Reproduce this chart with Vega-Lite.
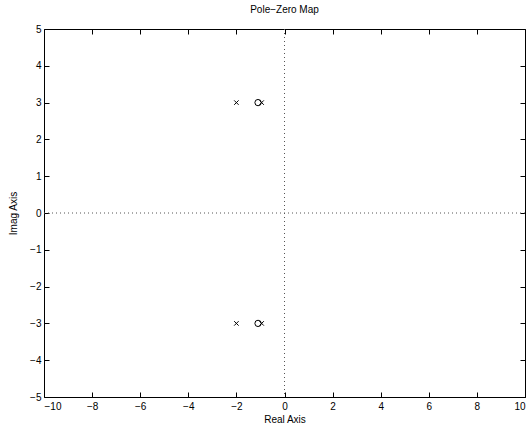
{
  "$schema": "https://vega.github.io/schema/vega-lite/v6.json",
  "autosize": "none",
  "width": 481,
  "height": 368,
  "padding": {"left": 44, "top": 29, "right": 6, "bottom": 37},
  "background": "white",
  "title": {"text": "Pole−Zero Map", "fontSize": 10, "fontWeight": "normal", "font": "Liberation Sans", "color": "black", "offset": 9},
  "config": {
    "view": {"stroke": "black", "strokeWidth": 1},
    "axis": {"grid": false, "domain": false, "tickColor": "black", "tickSize": -5, "labelFont": "Liberation Sans", "labelFontSize": 10, "labelColor": "black", "titleFont": "Liberation Sans", "titleFontSize": 10, "titleFontWeight": "normal", "titleColor": "black", "labelPadding": 9}
  },
  "layer": [
    {
      "data": {"values": [
        {"re": -2, "im": 3, "kind": "pole"},
        {"re": -2, "im": -3, "kind": "pole"},
        {"re": -0.95, "im": 3, "kind": "pole"},
        {"re": -0.95, "im": -3, "kind": "pole"},
        {"re": -1.1, "im": 3, "kind": "zero"},
        {"re": -1.1, "im": -3, "kind": "zero"}
      ]},
      "mark": {"type": "point", "filled": false, "stroke": "black", "strokeWidth": 1, "opacity": 1},
      "encoding": {
        "x": {"field": "re", "type": "quantitative", "scale": {"domain": [-10, 10], "nice": false}, "axis": {"orient": "bottom", "title": "Real Axis", "values": [-10,-8,-6,-4,-2,0,2,4,6,8,10], "titlePadding": 3}},
        "y": {"field": "im", "type": "quantitative", "scale": {"domain": [-5, 5], "nice": false}, "axis": {"orient": "left", "title": "Imag Axis", "values": [-5,-4,-3,-2,-1,0,1,2,3,4,5], "titlePadding": 11, "labelPadding": 8}},
        "shape": {"field": "kind", "type": "nominal", "scale": {"domain": ["pole", "zero"], "range": ["M-1,-1L1,1M-1,1L1,-1", "circle"]}, "legend": null},
        "size": {"field": "kind", "type": "nominal", "scale": {"domain": ["pole", "zero"], "range": [20, 40]}, "legend": null}
      }
    },
    {
      "data": {"values": [{"re": 0, "im": 0}]},
      "mark": {"type": "point", "opacity": 0},
      "encoding": {
        "x": {"field": "re", "type": "quantitative", "scale": {"domain": [-10, 10], "nice": false}, "axis": {"orient": "top", "labels": false, "title": null, "values": [-10,-8,-6,-4,-2,0,2,4,6,8,10]}},
        "y": {"field": "im", "type": "quantitative", "scale": {"domain": [-5, 5], "nice": false}, "axis": {"orient": "right", "labels": false, "title": null, "values": [-5,-4,-3,-2,-1,0,1,2,3,4,5]}}
      }
    },
    {
      "data": {"values": [{"v": 0}]},
      "mark": {"type": "rule", "color": "#555555", "strokeDash": [1, 3], "strokeWidth": 1},
      "encoding": {"x": {"field": "v", "type": "quantitative", "scale": {"domain": [-10, 10], "nice": false}, "axis": null}}
    },
    {
      "data": {"values": [{"v": 0}]},
      "mark": {"type": "rule", "color": "#555555", "strokeDash": [1, 3], "strokeWidth": 1},
      "encoding": {"y": {"field": "v", "type": "quantitative", "scale": {"domain": [-5, 5], "nice": false}, "axis": null}}
    }
  ],
  "resolve": {"axis": {"x": "independent", "y": "independent"}}
}
